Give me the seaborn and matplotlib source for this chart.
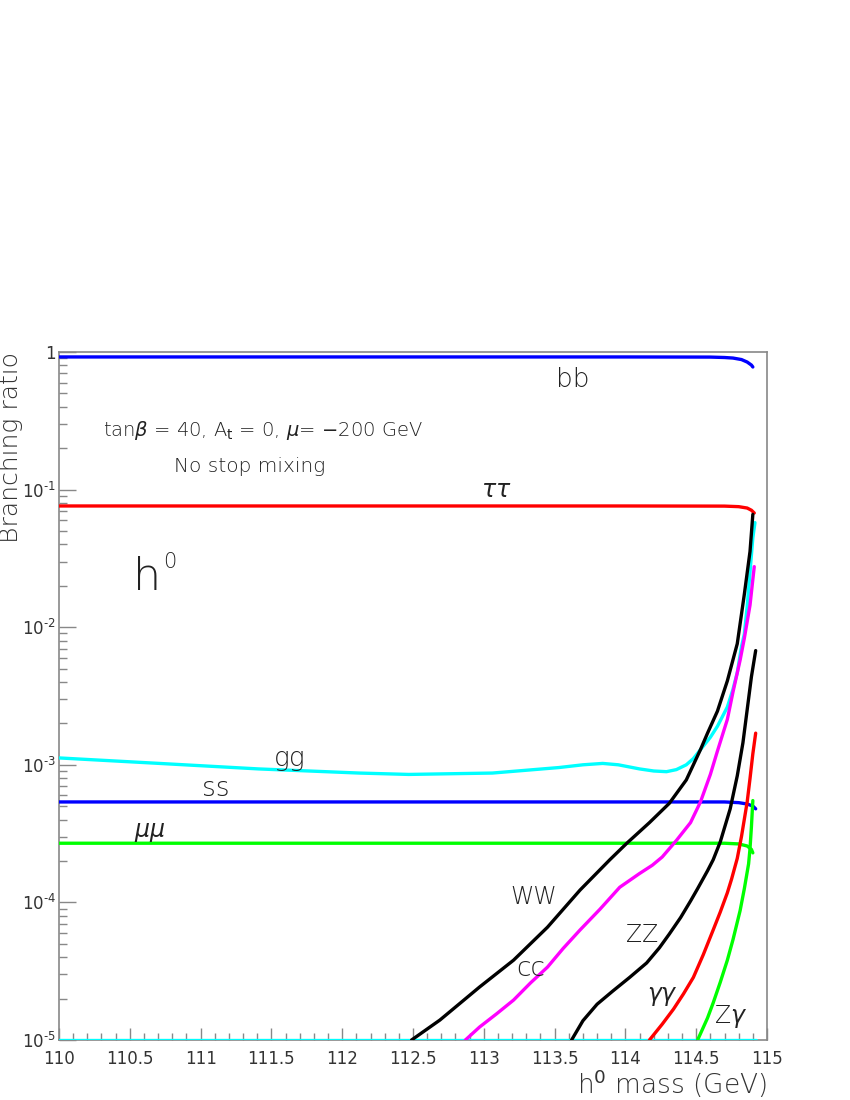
import numpy as np
import pandas as pd
import matplotlib
matplotlib.use("Agg")
import matplotlib.pyplot as plt
import seaborn as sns
from matplotlib.ticker import MultipleLocator, LogLocator, FuncFormatter, NullFormatter

# values (x = h0 mass in GeV, y = log10 of branching ratio)
bb_x = [110, 112, 114, 114.6, 114.7, 114.76, 114.82, 114.86, 114.89, 114.90]
bb_y = [-0.036, -0.036, -0.036, -0.037, -0.040, -0.044, -0.055, -0.073, -0.095, -0.109]

tautau_x = [110, 112, 114, 114.7, 114.8, 114.86, 114.89, 114.91]
tautau_y = [-1.119, -1.119, -1.119, -1.12, -1.124, -1.134, -1.15, -1.17]

gg_x = [110, 110.71, 111.41, 112.12, 112.47, 113.06, 113.53, 113.7, 113.84, 113.95,
        114.1, 114.2, 114.29, 114.36, 114.43, 114.48, 114.53, 114.6, 114.65, 114.72,
        114.76, 114.79, 114.82, 114.84, 114.86, 114.88, 114.9, 114.915]
gg_y = [-2.95, -2.99, -3.03, -3.06, -3.07, -3.06, -3.02, -3.0, -2.99, -3.0,
        -3.03, -3.045, -3.05, -3.035, -3.0, -2.955, -2.89, -2.8, -2.72, -2.58,
        -2.45, -2.33, -2.14, -2.05, -1.85, -1.6, -1.35, -1.24]

ss_x = [110, 112, 114, 114.7, 114.8, 114.86, 114.9, 114.92]
ss_y = [-3.27, -3.27, -3.27, -3.27, -3.275, -3.285, -3.30, -3.32]

mumu_x = [110, 112, 114, 114.7, 114.8, 114.86, 114.89, 114.90]
mumu_y = [-3.57, -3.57, -3.57, -3.57, -3.575, -3.59, -3.615, -3.64]

ww_x = [112.49, 112.69, 112.97, 113.21, 113.45, 113.68, 113.89, 114.01, 114.17, 114.31,
        114.43, 114.53, 114.58, 114.65, 114.72, 114.79, 114.84, 114.88, 114.90]
ww_y = [-5.0, -4.855, -4.615, -4.42, -4.18, -3.91, -3.69, -3.57, -3.42, -3.28,
        -3.11, -2.89, -2.77, -2.61, -2.39, -2.12, -1.76, -1.45, -1.18]

cc_x = [112.87, 112.97, 113.09, 113.21, 113.33, 113.45, 113.56, 113.68, 113.82, 113.96,
        114.1, 114.19, 114.26, 114.36, 114.46, 114.53, 114.6, 114.65, 114.72, 114.76,
        114.81, 114.84, 114.88, 114.91]
cc_y = [-5.0, -4.906, -4.81, -4.71, -4.585, -4.47, -4.335, -4.20, -4.05, -3.89,
        -3.79, -3.73, -3.67, -3.55, -3.42, -3.27, -3.07, -2.90, -2.67, -2.47,
        -2.24, -2.08, -1.84, -1.56]

zz_x = [113.62, 113.70, 113.80, 113.91, 114.03, 114.15, 114.24, 114.31, 114.39, 114.46,
        114.51, 114.58, 114.62, 114.67, 114.74, 114.79, 114.83, 114.86, 114.89, 114.92]
zz_y = [-5.0, -4.86, -4.74, -4.645, -4.545, -4.44, -4.33, -4.23, -4.11, -3.99,
        -3.90, -3.77, -3.69, -3.56, -3.32, -3.08, -2.84, -2.60, -2.36, -2.17]

gamgam_x = [114.17, 114.26, 114.34, 114.41, 114.48, 114.55, 114.62, 114.67, 114.72, 114.75,
            114.79, 114.82, 114.86, 114.88, 114.90, 114.92]
gamgam_y = [-5.0, -4.885, -4.775, -4.665, -4.545, -4.38, -4.20, -4.07, -3.93, -3.83,
            -3.68, -3.52, -3.27, -3.10, -2.92, -2.77]

zgam_x = [114.51, 114.58, 114.62, 114.67, 114.72, 114.76, 114.81, 114.84, 114.87, 114.88,
          114.89, 114.90]
zgam_y = [-5.0, -4.84, -4.73, -4.58, -4.42, -4.27, -4.06, -3.90, -3.72, -3.61,
          -3.45, -3.26]

floor_x = [110, 114.92]
floor_y = [-5.0, -5.0]

series = [
    ("bb", bb_x, bb_y, "#0000ff"),
    ("tautau", tautau_x, tautau_y, "#ff0000"),
    ("floor", floor_x, floor_y, "#00ffff"),
    ("gg", gg_x, gg_y, "#00ffff"),
    ("ss", ss_x, ss_y, "#0000ff"),
    ("mumu", mumu_x, mumu_y, "#00ff00"),
    ("cc", cc_x, cc_y, "#ff00ff"),
    ("WW", ww_x, ww_y, "#000000"),
    ("ZZ", zz_x, zz_y, "#000000"),
    ("gamgam", gamgam_x, gamgam_y, "#ff0000"),
    ("Zgam", zgam_x, zgam_y, "#00ff00"),
]

sns.set_style("ticks")
plt.rcParams['font.family'] = ['DejaVu Sans']
plt.rcParams['mathtext.fontset'] = 'dejavusans'

fig = plt.figure(figsize=(8.5, 11), dpi=100)
ax = fig.add_axes([59 / 850, 60 / 1100, 708 / 850, 688 / 1100])

for name, xs, ys, col in series:
    df = pd.DataFrame({"mass": xs, "br": np.power(10.0, ys)})
    sns.lineplot(data=df, x="mass", y="br", color=col, linewidth=2.4,
                 ax=ax, estimator=None, sort=False, zorder=3)

ax.set_yscale("log")
ax.set_xlim(110, 115)
ax.set_ylim(1e-5, 1)

ax.xaxis.set_major_locator(MultipleLocator(0.5))
ax.xaxis.set_minor_locator(MultipleLocator(0.1))
ax.xaxis.set_major_formatter(FuncFormatter(lambda v, p: f"{v:g}"))
ax.yaxis.set_major_locator(LogLocator(base=10, numticks=10))
ax.yaxis.set_minor_locator(LogLocator(base=10, subs=np.arange(2, 10), numticks=10))
ax.yaxis.set_minor_formatter(NullFormatter())


def ylab(v, p):
    e = int(round(np.log10(v)))
    if e == 0:
        return "1"
    return r"$10^{\text{-}%d}$" % abs(e)


ax.yaxis.set_major_formatter(FuncFormatter(ylab))

grey = "#888888"
for s in ax.spines.values():
    s.set_color(grey)
    s.set_linewidth(1.2)
ax.tick_params(axis="both", which="both", direction="in", color=grey, labelcolor="#333333",
               top=False, right=False)
ax.tick_params(axis="x", which="major", length=9, width=1, pad=7, labelsize=12)
ax.tick_params(axis="x", which="minor", length=5, width=1)
ax.tick_params(axis="y", which="major", length=12, width=1, pad=2, labelsize=12)
ax.tick_params(axis="y", which="minor", length=6, width=1)

ax.set_xlabel(r"h$^{0}$ mass (GeV)", loc="right", fontsize=19, color="#333333",
              labelpad=0, fontweight="light")
ax.set_ylabel("Branching ratio", loc="top", fontsize=18, color="#333333", fontweight="light")
ax.yaxis.set_label_coords(-0.051, 1.0)

tc = "#222222"
kw = dict(color=tc, ha="center", va="center", fontweight="light")
ax.text(113.63, 0.63, "bb", fontsize=19, **kw)
ax.text(113.09, 0.099, r"$\tau\tau$", fontsize=17, **kw)
ax.text(110.31, 0.27, r"tan$\beta$ = 40, A$_{\rm t}$ = 0, $\mu$= $-$200 GeV",
        fontsize=14, color=tc, ha="left", va="center", fontweight="light")
ax.text(110.81, 0.146, "No stop mixing", fontsize=14.5, color=tc, ha="left", va="center",
        fontweight="light")
ax.text(110.52, 0.0228, "h", fontsize=32, color=tc, ha="left", va="center",
        fontweight="light")
ax.annotate("0", xy=(110.52, 0.0228), xytext=(22, 4), textcoords="offset points",
            fontsize=15, color=tc, ha="left", va="bottom", fontweight="light")
ax.text(111.63, 1.12e-3, "gg", fontsize=19, **kw)
ax.text(111.11, 6.7e-4, "ss", fontsize=19, **kw)
ax.text(110.64, 3.24e-4, r"$\mu\mu$", fontsize=17, **kw)
ax.text(113.35, 1.1e-4, "WW", fontsize=17, **kw)
ax.text(113.33, 3.3e-5, "cc", fontsize=19, **kw)
ax.text(114.12, 5.8e-5, "ZZ", fontsize=17, **kw)
ax.text(114.26, 2.09e-5, r"$\gamma\gamma$", fontsize=17, **kw)
ax.text(114.74, 1.47e-5, r"Z$\gamma$", fontsize=17, **kw)

if ax.get_legend() is not None:
    ax.get_legend().remove()

fig.savefig("out.png", dpi=100)
plt.close(fig)
